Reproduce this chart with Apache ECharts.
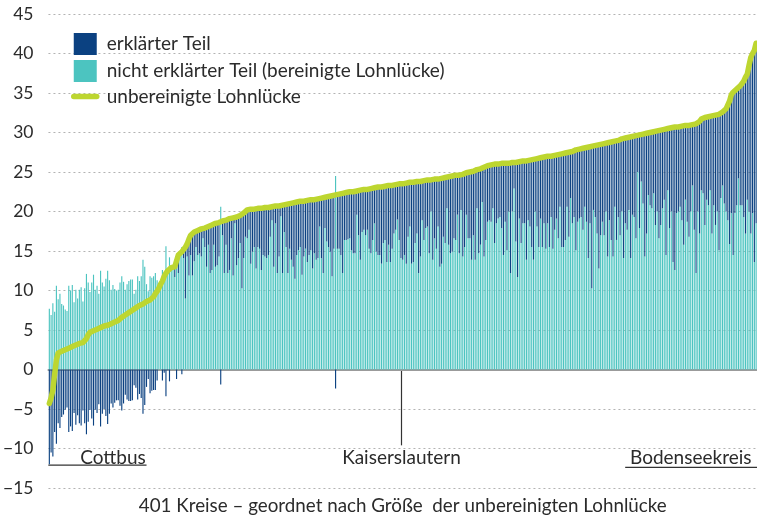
<!DOCTYPE html>
<html><head><meta charset="utf-8">
<script src="https://cdn.jsdelivr.net/npm/echarts@6/dist/echarts.min.js"></script>
<style>html,body{margin:0;padding:0;background:#fff}#c{width:757px;height:520px}</style>
</head><body><div id="c"></div>
<script>
// unbereinigte Lohnlücke (line), one value per Kreis, sorted
const gap = [
-4.3,-3.6,-2.6,-0.6,1.2,2.1,2.2,2.3,2.4,2.5,
2.6,2.7,2.8,2.9,3.0,3.1,3.2,3.3,3.3,3.4,
3.5,3.9,4.4,4.7,4.8,4.9,5.0,5.1,5.2,5.3,
5.4,5.5,5.6,5.6,5.7,5.8,5.9,6.0,6.1,6.2,
6.4,6.6,6.8,6.9,7.0,7.2,7.4,7.5,7.6,7.8,
8.0,8.1,8.2,8.3,8.5,8.6,8.7,8.8,8.9,9.2,
9.6,9.9,10.3,10.8,11.2,11.8,12.2,12.5,12.7,12.9,
13.0,13.0,13.1,14.5,14.7,14.9,15.2,15.5,15.9,16.5,
17.0,17.2,17.4,17.5,17.6,17.7,17.8,17.9,17.9,18.0,
18.1,18.2,18.3,18.4,18.5,18.6,18.6,18.7,18.8,18.8,
18.9,19.0,19.1,19.1,19.2,19.3,19.3,19.4,19.5,19.6,
19.8,20.0,20.2,20.2,20.3,20.3,20.3,20.3,20.4,20.4,
20.4,20.4,20.5,20.5,20.5,20.6,20.6,20.6,20.7,20.7,
20.7,20.8,20.8,20.9,20.9,21.0,21.0,21.0,21.1,21.1,
21.2,21.2,21.3,21.3,21.3,21.4,21.4,21.4,21.5,21.5,
21.5,21.6,21.6,21.6,21.7,21.7,21.8,21.8,21.9,22.0,
22.0,22.1,22.1,22.2,22.2,22.3,22.3,22.4,22.4,22.4,
22.5,22.5,22.5,22.6,22.6,22.7,22.7,22.7,22.8,22.8,
22.8,22.9,22.9,22.9,23.0,23.0,23.1,23.1,23.1,23.2,
23.2,23.2,23.3,23.3,23.3,23.4,23.4,23.4,23.5,23.5,
23.5,23.6,23.6,23.6,23.7,23.7,23.7,23.8,23.8,23.8,
23.8,23.9,23.9,23.9,24.0,24.0,24.0,24.0,24.1,24.1,
24.1,24.2,24.2,24.3,24.3,24.3,24.4,24.4,24.5,24.5,
24.6,24.6,24.6,24.7,24.7,24.8,24.9,24.9,25.0,25.0,
25.1,25.2,25.3,25.3,25.4,25.5,25.6,25.7,25.8,25.8,
25.9,25.9,26.0,26.0,26.0,26.0,26.1,26.1,26.1,26.1,
26.1,26.1,26.2,26.2,26.2,26.2,26.3,26.3,26.4,26.4,
26.4,26.5,26.5,26.6,26.6,26.7,26.7,26.7,26.8,26.8,
26.9,26.9,27.0,27.0,27.0,27.1,27.1,27.2,27.2,27.3,
27.3,27.4,27.4,27.5,27.5,27.6,27.6,27.7,27.8,27.8,
27.9,27.9,28.0,28.0,28.1,28.1,28.2,28.2,28.3,28.3,
28.4,28.5,28.5,28.6,28.6,28.7,28.7,28.8,28.8,28.9,
28.9,29.0,29.0,29.1,29.2,29.2,29.3,29.3,29.4,29.4,
29.5,29.5,29.6,29.6,29.7,29.7,29.8,29.8,29.9,30.0,
30.0,30.0,30.1,30.1,30.2,30.2,30.3,30.3,30.4,30.4,
30.5,30.5,30.6,30.6,30.7,30.7,30.7,30.8,30.8,30.8,
30.9,30.9,30.9,31.0,31.0,31.1,31.1,31.2,31.4,31.7,
31.8,31.9,31.9,32.0,32.0,32.1,32.1,32.2,32.3,32.3,
32.4,32.6,32.8,33.0,33.2,34.0,34.8,35.1,35.3,35.5,
35.7,35.9,36.1,36.5,37.0,37.4,38.5,39.5,40.0,40.4,
41.3];

// nicht erklärter Teil (bereinigte Lohnlücke)
const unexplained = [
7.7,6.9,8.4,7.3,10.6,8.9,9.6,8.3,8.1,7.6,
7.4,10.6,10.0,10.7,8.5,10.1,9.0,10.1,10.4,8.6,
10.3,12.1,11.0,9.8,11.0,12.0,10.1,10.6,9.6,12.5,
11.0,10.5,11.5,12.5,11.3,10.1,10.7,10.2,10.0,10.1,
11.0,11.8,11.1,10.1,10.8,11.2,11.4,11.4,9.6,10.1,
11.8,11.2,11.8,13.9,13.0,10.8,9.9,11.8,11.6,11.8,
12.2,11.3,9.9,10.6,12.6,12.2,15.6,12.6,14.2,12.6,
13.0,11.7,14.3,12.2,14.7,15.5,14.1,9.0,14.3,11.9,
14.5,11.9,13.7,15.5,14.5,14.7,14.3,16.6,15.5,13.0,
15.8,12.2,12.6,15.8,13.0,13.2,14.3,20.6,17.0,12.2,
15.8,12.2,12.6,16.6,11.9,18.5,13.2,14.1,16.0,10.3,
14.1,16.8,16.6,17.7,13.4,14.9,15.5,12.8,15.5,15.3,
12.6,14.5,14.3,14.1,14.5,16.8,18.9,13.0,18.5,12.2,
14.3,19.4,12.2,17.4,15.5,12.2,15.3,13.9,13.0,11.5,
14.5,15.1,15.5,12.0,14.3,15.3,13.6,14.5,15.1,12.8,
14.7,13.9,14.1,18.1,14.1,12.2,17.9,16.2,15.5,14.9,
11.8,15.3,24.5,15.3,15.3,14.5,12.2,16.4,16.4,16.5,
16.6,15.1,14.7,14.7,19.6,17.0,13.9,17.4,17.7,17.0,
17.7,15.3,14.7,16.4,18.5,14.9,14.5,14.5,13.4,16.0,
16.4,13.6,15.8,13.6,15.3,17.2,17.7,19.0,16.4,14.1,
13.9,14.5,13.4,16.8,18.1,13.4,13.6,16.0,17.2,12.2,
14.3,18.9,16.4,17.9,18.1,14.7,20.0,13.9,16.6,15.3,
18.1,13.0,13.4,16.8,16.0,20.4,15.8,14.7,14.9,16.6,
16.4,19.6,14.7,20.2,14.3,15.5,19.6,16.6,16.6,13.9,
17.0,13.9,20.4,14.7,15.8,21.2,14.3,16.4,18.7,18.9,
18.7,20.4,16.0,18.5,19.1,19.3,17.9,14.5,18.7,15.1,
20.0,12.2,20.0,22.9,16.2,11.7,19.1,16.0,18.5,18.5,
13.9,18.9,18.1,15.5,13.9,20.0,18.1,15.5,19.1,15.5,
18.5,15.3,18.5,15.5,19.3,15.3,17.7,19.1,16.6,20.6,
15.5,15.5,16.4,20.6,16.8,21.7,18.5,19.3,15.1,18.7,
19.1,19.3,17.7,20.6,18.7,14.1,18.5,10.3,20.2,19.3,
17.2,12.8,17.0,18.7,17.0,20.0,14.3,18.9,16.4,14.3,
20.6,16.4,19.3,17.0,20.0,14.1,18.5,17.7,20.2,14.1,
19.6,19.3,16.6,25.0,17.9,23.8,21.0,14.3,17.2,22.1,
20.8,20.4,22.3,18.3,20.0,16.6,18.3,20.4,21.5,14.5,
22.7,17.9,20.0,13.6,12.6,19.8,20.0,20.6,18.9,15.8,
21.5,18.7,16.8,20.0,23.3,17.7,12.2,20.0,17.2,22.7,
22.3,18.3,21.5,20.8,22.7,17.2,20.8,18.3,20.0,15.1,
21.7,23.3,21.0,20.0,18.9,15.9,19.8,14.5,19.8,20.8,
24.2,20.8,20.8,19.3,17.2,21.5,20.0,17.2,19.8,13.6,
18.5];

// erklärter Teil = unbereinigte minus bereinigte Lohnlücke (decomposition of the read values)
const explained = gap.map((g, i) => Math.round((g - unexplained[i]) * 10) / 10);

const categories = gap.map((_, i) => 'Kreis ' + (i + 1));
const seriesNames = ['erklärter Teil', 'nicht erklärter Teil (bereinigte Lohnlücke)', 'unbereinigte Lohnlücke'];
const yMin = -15, yMax = 45, yStep = 5;
const annotNames = ['Cottbus', 'Kaiserslautern', 'Bodenseekreis'];
const annotIndex = [0, 199, 400];
const caption = '401 Kreise \u2013 geordnet nach Gr\u00f6\u00dfe  der unbereinigten Lohnl\u00fccke';

const FONT = 'Lato, "Noto Sans", sans-serif';
const C_BLUE = '#0b4181', C_TEAL = '#4cc4c0', C_GREEN = '#bdd630', C_TEXT = '#2b2b2b';

const chart = echarts.init(document.getElementById('c'), null, {renderer: 'canvas'});
chart.setOption({
  animation: false,
  grid: {left: 48, right: 0, top: 14, bottom: 32},
  legend: {
    orient: 'vertical', left: 66, top: 28, itemWidth: 23, itemHeight: 22, itemGap: 5,
    selectedMode: false,
    textStyle: {fontFamily: FONT, fontSize: 19, color: C_TEXT, padding: [0, 0, 0, 5]},
    data: [
      {name: seriesNames[0], icon: 'rect'},
      {name: seriesNames[1], icon: 'rect'},
      {name: seriesNames[2], itemStyle: {color: 'rgba(0,0,0,0)', opacity: 0, borderWidth: 0},
       lineStyle: {width: 5.5, color: C_GREEN, cap: 'round'}}
    ]
  },
  xAxis: {
    type: 'category', data: categories,
    axisTick: {show: false}, axisLabel: {show: false},
    axisLine: {show: true, onZero: true, lineStyle: {color: '#9b9b9b', width: 2}},
    splitLine: {show: false}
  },
  yAxis: {
    type: 'value', min: yMin, max: yMax, interval: yStep,
    axisLine: {show: false}, axisTick: {show: false},
    axisLabel: {fontFamily: FONT, fontSize: 17.5, color: C_TEXT, margin: 15,
      formatter: v => v < 0 ? '\u2212' + (-v) : String(v)},
    splitLine: {lineStyle: {color: '#b3b3b3', type: [2, 3], width: 1}}
  },
  series: [
    {name: seriesNames[1], type: 'bar', stack: 'gap', data: unexplained,
     itemStyle: {color: C_TEAL}, barCategoryGap: '36%'},
    {name: seriesNames[0], type: 'bar', stack: 'gap', data: explained,
     itemStyle: {color: C_BLUE}, barCategoryGap: '36%'},
    {name: seriesNames[2], type: 'line', data: gap, symbol: 'none', z: 5,
     lineStyle: {color: C_GREEN, width: 5.5, cap: 'round', join: 'round'}, itemStyle: {color: C_GREEN}}
  ]
});

// annotations placed through the axes' own scales
const p = (i, v) => chart.convertToPixel({gridIndex: 0}, [i, v]);
const band = p(1, 0)[0] - p(0, 0)[0];
const xAt = idx => p(0, 0)[0] + idx * band;
const rightEdge = p(annotIndex[2], 0)[0] + band / 2;
const labelY = p(0, -11.2)[1];
const tStyle = (text, x) => ({type: 'text', style: {text, x, y: labelY, textAlign: 'center', textVerticalAlign: 'middle',
  font: '19px ' + FONT, fill: C_TEXT}});
const lStyle = {stroke: '#333', lineWidth: 1.2};
const cotY = p(0, explained[annotIndex[0]] - 0.1)[1];
const bodY = p(0, -12.4)[1];
const kx = Math.round(p(annotIndex[1], 0)[0]) + 0.5;
chart.setOption({
  graphic: [
    {type: 'line', shape: {x1: xAt(annotIndex[0]) - 1, y1: cotY, x2: xAt(55), y2: cotY}, style: lStyle},
    tStyle(annotNames[0], xAt(36)),
    {type: 'line', shape: {x1: kx, y1: p(0, 0)[1], x2: kx, y2: p(0, -9.6)[1]}, style: lStyle},
    tStyle(annotNames[1], kx),
    {type: 'line', shape: {x1: xAt(325.9), y1: bodY, x2: rightEdge, y2: bodY}, style: lStyle},
    tStyle(annotNames[2], xAt(363)),
    {type: 'text', style: {text: caption, x: (p(0, 0)[0] - band / 2 + rightEdge) / 2, y: 506,
      textAlign: 'center', textVerticalAlign: 'middle', font: '18.8px ' + FONT, fill: C_TEXT}}
  ]
});
</script>
</body></html>
